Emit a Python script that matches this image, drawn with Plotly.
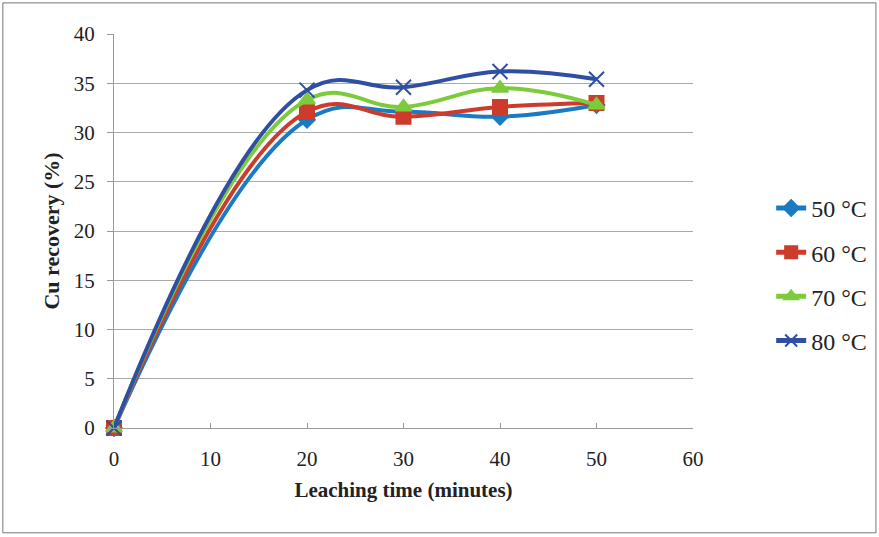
import plotly.graph_objects as go

time_min = [0, 20, 30, 40, 50]
series_names = ["50 °C", "60 °C", "70 °C", "80 °C"]
rec_50 = [0, 31.3, 32.1, 31.6, 32.8]
rec_60 = [0, 32.1, 31.6, 32.6, 33.0]
rec_70 = [0, 33.3, 32.6, 34.5, 32.8]
rec_80 = [0, 34.3, 34.6, 36.2, 35.4]
x_ticks = [0, 10, 20, 30, 40, 50, 60]
y_ticks = [0, 5, 10, 15, 20, 25, 30, 35, 40]

colors = ["#1b7bc2", "#cc3b2c", "#7ccb3c", "#2f4fa2"]
symbols = ["diamond", "square", "triangle-up", "x-thin"]
sizes = [12, 14, 14, 15]
values = [rec_50, rec_60, rec_70, rec_80]

fig = go.Figure()
for name, ys, c, s, sz in zip(series_names, values, colors, symbols, sizes):
    fig.add_trace(go.Scatter(
        x=time_min, y=ys, name=name, mode="lines+markers", legendgroup=name,
        cliponaxis=False,
        line=dict(color=c, width=4, shape="spline", smoothing=1.2),
        marker=dict(symbol=s, size=sz, color=c, line=dict(color=c, width=2)),
    ))

font_family = "Liberation Serif, Times New Roman, serif"
fig.update_layout(
    width=879, height=537,
    margin=dict(l=114, r=186, t=34, b=109, autoexpand=False),
    paper_bgcolor="white", plot_bgcolor="white",
    font=dict(family=font_family, size=21, color="#222"),
    showlegend=True,
    legend=dict(x=1.135, y=0.39, xanchor="left", yanchor="middle",
                font=dict(size=24, family=font_family), tracegroupgap=10,
                itemsizing="constant", bgcolor="rgba(0,0,0,0)"),
    xaxis=dict(range=[0, 60], tickvals=x_ticks, showgrid=False, zeroline=False,
               showline=True, linecolor="#999", linewidth=1,
               ticks="inside", ticklen=5, tickcolor="#999", ticklabelstandoff=12,
               title=dict(text="<b>Leaching time (minutes)</b>", font=dict(size=21), standoff=12),
               tickfont=dict(size=21)),
    yaxis=dict(range=[0, 40], tickvals=y_ticks, showgrid=True, gridcolor="#aaa", gridwidth=1,
               zeroline=False, showline=True, linecolor="#999", linewidth=1,
               ticks="outside", ticklen=6, tickcolor="#999", ticklabelstandoff=8,
               title=dict(text="<b>Cu recovery (%)</b>", font=dict(size=22), standoff=8),
               tickfont=dict(size=21)),
    shapes=[dict(type="rect", xref="paper", yref="paper",
                 x0=-0.192, x1=1.316, y0=-0.266, y1=1.079,
                 line=dict(color="#777", width=1), fillcolor="rgba(0,0,0,0)", layer="below")],
)
fig.write_html("out.html", post_script="document.body.style.margin='0';",
               config={"displayModeBar": False})
